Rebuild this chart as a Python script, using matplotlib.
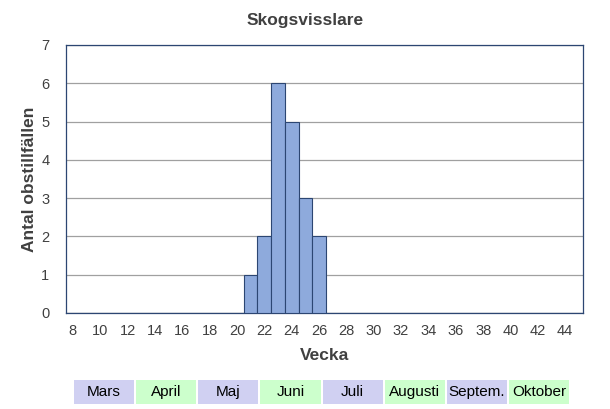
import matplotlib
matplotlib.use("Agg")
import matplotlib.pyplot as plt
from matplotlib.patches import Rectangle

plt.rcParams['font.family'] = ['Liberation Sans', 'DejaVu Sans']

weeks = list(range(8, 46))
counts_by_week = {21: 1, 22: 2, 23: 6, 24: 5, 25: 3, 26: 2}
counts = [counts_by_week.get(w, 0) for w in weeks]
xtick_labels = list(range(8, 46, 2))
months = ["Mars", "April", "Maj", "Juni", "Juli", "Augusti", "Septem.", "Oktober"]
month_colors = ["#d0d0f2", "#ccffcc"]

txt = "#404040"
fig = plt.figure(figsize=(6.10, 4.09), dpi=100)
ax = fig.add_axes([66/610, 1-313/409, (583-66)/610, (313-45)/409])
ax.bar(weeks, counts, width=1.0, color="#8eaadc", edgecolor="#2c4672", linewidth=0.8, zorder=3)
ax.set_xlim(7.5, 45.3)
ax.set_ylim(0, 7)
ax.set_yticks(range(0, 8))
ax.set_xticks(xtick_labels)
ax.yaxis.grid(True, color="#a0a0a0", linewidth=0.9, zorder=0)
ax.tick_params(axis='both', length=0, colors=txt, labelsize=10.5)
ax.tick_params(axis='x', pad=8)
ax.tick_params(axis='y', pad=12)
for s in ax.spines.values():
    s.set_color("#2c4672")
    s.set_linewidth(0.9)
fig.text(0.5, 1 - 20 / 409, "Skogsvisslare", ha='center', va='center',
         fontsize=12.5, fontweight='bold', color=txt)
ax.set_xlabel("Vecka", fontsize=12.5, fontweight='bold', color=txt)
ax.xaxis.set_label_coords(0.5, -(355 - 313) / 268, transform=ax.transAxes)
ax.xaxis.label.set_va('center')
ax.set_ylabel("Antal obstillfällen", fontsize=12.5, fontweight='bold', color=txt)
ax.yaxis.set_label_coords((30 - 66) / 517, 0.5)
ax.yaxis.label.set_va('center')

# month band
x0, x1 = 73, 570
n = len(months)
w = (x1 - x0) / n
for i, m in enumerate(months):
    left = x0 + i * w
    r = Rectangle(((left + 1) / 610, 1 - 404 / 409), (w - 2) / 610, 24 / 409,
                  transform=fig.transFigure, facecolor=month_colors[i % 2], edgecolor='none')
    fig.add_artist(r)
    fig.text((left + w / 2) / 610, 1 - 392 / 409, m, ha='center', va='center',
             fontsize=11, color='black')

fig.savefig("out.png", dpi=100, facecolor='white')
